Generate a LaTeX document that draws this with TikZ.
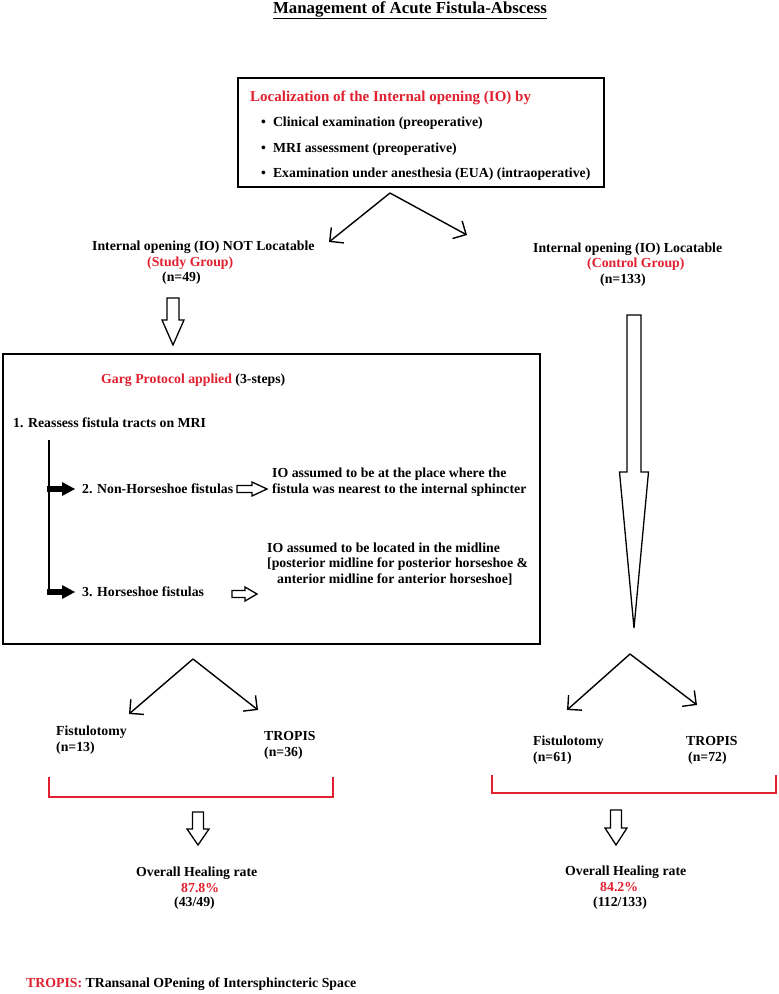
\documentclass[tikz,border=0pt]{standalone}
\usepackage{fontspec}
\setmainfont{Liberation Serif}
\usetikzlibrary{arrows.meta}
\definecolor{myred}{RGB}{225,32,48}
\newcommand\hdownarrow[6]{% x, top, shoulder, tip, shaft half, head half
  \draw[hollow] (#1-#5,#2) -- (#1+#5,#2) -- (#1+#5,#3) -- (#1+#6,#3) -- (#1,#4) -- (#1-#6,#3) -- (#1-#5,#3) -- cycle;}
\newcommand\hrightarrow[6]{% start x, y, shoulder x, tip x, shaft half, head half
  \draw[hollow] (#1,#2-#5) -- (#3,#2-#5) -- (#3,#2-#6) -- (#4,#2) -- (#3,#2+#6) -- (#3,#2+#5) -- (#1,#2+#5) -- cycle;}
\begin{document}
\begin{tikzpicture}[x=1pt,y=-1pt,
  txt/.style={font=\fontsize{13.8}{15.5}\selectfont\bfseries, inner sep=0pt, anchor=base west, align=left},
  redtxt/.style={txt, text=myred},
  boxline/.style={draw, line width=1.8pt, inner sep=0pt},
  split/.style={line width=1.4pt, -{Straight Barb[length=10pt,width=20pt,line width=1.4pt]}},
  hollow/.style={line width=1.3pt, fill=white, line join=miter},
  bracket/.style={line width=1.5pt, draw=myred},
  blackarrow/.style={line width=6pt, -{Triangle[length=13pt,width=14pt,line width=0pt]}}]
\path[use as bounding box, fill=white] (0,0) rectangle (779,994);

% title
\node[txt, anchor=base, font=\fontsize{16.8}{20}\selectfont\bfseries] (title) at (410,13) {\underline{Management of Acute Fistula-Abscess}};

% top box
\node[boxline, minimum width=366pt, minimum height=109pt] (topbox) at (421,132.5) {};
\node[redtxt, font=\fontsize{15}{17}\selectfont\bfseries] (loc) at (250,101) {Localization of the Internal opening (IO) by};
\node[txt] (b1) at (261,126) {•\hspace{7pt}Clinical examination (preoperative)};
\node[txt] (b2) at (261,152) {•\hspace{7pt}MRI assessment (preoperative)};
\node[txt] (b3) at (261,177) {•\hspace{7pt}Examination under anesthesia (EUA) (intraoperative)};

% top split
\coordinate (apex1) at (390,193);
\coordinate (tipL1) at (329,242);
\coordinate (tipR1) at (467,235);
\draw[split] (apex1) -- (tipL1);
\draw[split] (apex1) -- (tipR1);

% left group
\node[txt] (notloc) at (92,250) {Internal opening (IO) NOT Locatable};
\node[redtxt] (study) at (147,266) {(Study Group)};
\node[txt] (n49) at (162,281) {(n=49)};
\hdownarrow{173}{298}{320}{345}{6}{11}

% right group
\node[txt] (loca) at (533,252) {Internal opening (IO) Locatable};
\node[redtxt] (control) at (587,267) {(Control Group)};
\node[txt] (n133) at (600,283) {(n=133)};
\hdownarrow{634}{315}{472}{628}{7}{14.5}

% Garg box
\node[boxline, minimum width=537pt, minimum height=290pt] (gargbox) at (271.5,499) {};
\node[txt] (garg) at (101,383) {\textcolor{myred}{Garg Protocol applied} (3-steps)};
\node[txt] (s1) at (13,427) {1. Reassess fistula tracts on MRI};
\node[txt] (s2) at (82,493) {2. Non-Horseshoe fistulas};
\node[txt] (s3) at (82,596) {3. Horseshoe fistulas};
\node[txt] (io1) at (272,493) {IO assumed to be at the place where the\\fistula was nearest to the internal sphincter};
\node[txt] (io2) at (267,583) {IO assumed to be located in the midline\\{}[posterior midline for posterior horseshoe \&\\\hspace*{10pt}anterior midline for anterior horseshoe]};

\coordinate (vtop) at (49,440);
\coordinate (vbot) at (49,594);
\coordinate (v2) at (47,489);
\coordinate (v3) at (47,592);
\draw[line width=1.5pt] (vtop) -- (vbot);
\draw[blackarrow] (v2) -- ++(28,0);
\draw[blackarrow] (v3) -- ++(28,0);
\hrightarrow{237}{489}{252}{267}{3.5}{7}
\hrightarrow{232}{594}{245}{257}{3.5}{7}

% lower left split
\coordinate (apex2) at (193,659);
\coordinate (tipL2) at (129,714);
\coordinate (tipR2) at (258,710);
\draw[split] (apex2) -- (tipL2);
\draw[split] (apex2) -- (tipR2);
\node[txt] (fistL) at (56,751) {Fistulotomy\\(n=13)};
\node[txt] (tropL) at (264,756) {TROPIS\\(n=36)};
\draw[bracket] (49,777) -- (49,797) -- (333,797) -- (333,777);
\hdownarrow{198}{812}{829}{845}{5.5}{11}
\node[txt] (ohL) at (136,876) {Overall Healing rate};
\node[redtxt] (pctL) at (181,892) {87.8\%};
\node[txt] (fracL) at (174,906) {(43/49)};

% lower right split
\coordinate (apex3) at (630,654);
\coordinate (tipL3) at (567,710);
\coordinate (tipR3) at (697,705);
\draw[split] (apex3) -- (tipL3);
\draw[split] (apex3) -- (tipR3);
\node[txt] (fistR) at (533,745) {Fistulotomy};
\node[txt] (n61) at (533,761) {(n=61)};
\node[txt] (tropR) at (686,745) {TROPIS};
\node[txt] (n72) at (688,761) {(n=72)};
\draw[bracket] (492,775) -- (492,793) -- (776,793) -- (776,775);
\hdownarrow{616}{810}{828}{845}{5.5}{11}
\node[txt] (ohR) at (565,875) {Overall Healing rate};
\node[redtxt] (pctR) at (600,891) {84.2\%};
\node[txt] (fracR) at (593,906) {(112/133)};

% footer
\node[txt] (foot) at (26,987) {\textcolor{myred}{TROPIS:} TRansanal OPening of Intersphincteric Space};
\end{tikzpicture}
\end{document}
